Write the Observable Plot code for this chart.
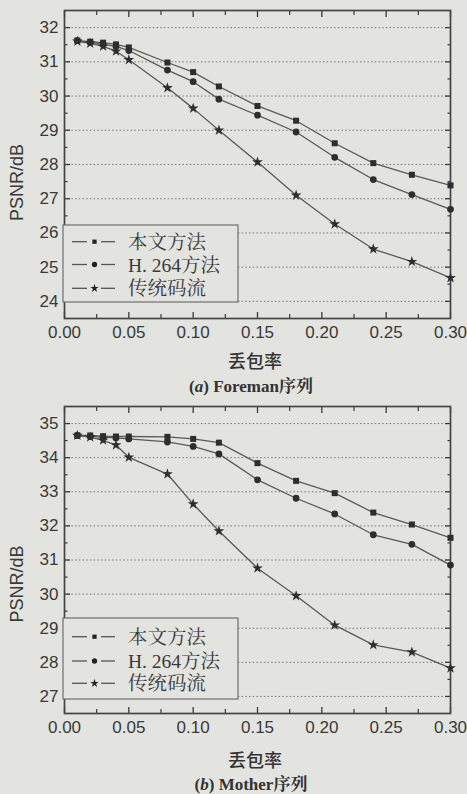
<!DOCTYPE html>
<html><head><meta charset="utf-8">
<script src="https://cdn.jsdelivr.net/npm/d3@7"></script>
<script src="https://cdn.jsdelivr.net/npm/@observablehq/plot@0.6"></script>
<style>
html,body{margin:0;padding:0;}
body{background:#e3e3df;width:467px;height:794px;overflow:hidden;position:relative;font-family:"Liberation Sans",Arial,sans-serif;}
.panel{position:absolute;left:0;width:467px;}
.xlab{position:absolute;left:0;width:510px;text-align:center;font-family:"Noto Sans CJK SC",sans-serif;font-size:18px;font-weight:500;color:#333;line-height:1;}
.cap{position:absolute;left:0;width:502px;text-align:center;font-family:"Liberation Serif","Noto Serif CJK SC","Noto Sans CJK SC",serif;font-size:17px;font-weight:bold;color:#333;line-height:1;}
.legend{position:absolute;}
</style></head>
<body>
<div id="p1" class="panel" style="top:0;height:400px;"></div>
<div id="p2" class="panel" style="top:400px;height:394px;"></div>
<script>
// ---- data ----
const lossRate = [0.01,0.02,0.03,0.04,0.05,0.08,0.10,0.12,0.15,0.18,0.21,0.24,0.27,0.30];
const foremanOurs = [31.62,31.59,31.56,31.51,31.42,30.98,30.70,30.28,29.71,29.28,28.62,28.04,27.70,27.39];
const foremanH264 = [31.62,31.57,31.51,31.45,31.33,30.76,30.42,29.91,29.44,28.95,28.21,27.56,27.12,26.69];
const foremanTrad = [31.60,31.54,31.45,31.31,31.06,30.24,29.64,29.00,28.07,27.10,26.26,25.53,25.16,24.69];
const motherOurs = [34.65,34.65,34.63,34.62,34.62,34.61,34.55,34.44,33.84,33.32,32.96,32.39,32.04,31.65];
const motherH264 = [34.65,34.62,34.60,34.58,34.55,34.46,34.33,34.11,33.35,32.81,32.35,31.74,31.46,30.85];
const motherTrad = [34.65,34.60,34.51,34.37,34.01,33.52,32.64,31.85,30.76,29.95,29.09,28.51,28.30,27.83];
const seriesNames = ["本文方法","H. 264方法","传统码流"];
const seriesSymbols = ["square","circle","star"];
const xMajor = [0,0.05,0.10,0.15,0.20,0.25,0.30];
const xMinor = [0.025,0.075,0.125,0.175,0.225,0.275];
const yMajor1 = [24,25,26,27,28,29,30,31,32];
const yMajor2 = [27,28,29,30,31,32,33,34,35];
const xLabel = "丢包率";
const yLabel = "PSNR/dB";

const ink = "#3a3a3a";
const bg = "#e3e3df";

function panel(el, cfg){
  const rows = [];
  cfg.series.forEach((vals, si) => vals.forEach((v, i) => rows.push({x: lossRate[i], y: v, s: seriesNames[si]})));
  const yMinor = cfg.yMajor.slice(0,-1).map(d => d + 0.5);
  const chart = Plot.plot({
    width: 467, height: cfg.height,
    marginLeft: 64, marginRight: 17, marginTop: cfg.mt, marginBottom: cfg.mb,
    style: {background: "transparent", color: ink, fontFamily: '"Liberation Sans",Arial,sans-serif'},
    x: {domain: [0, 0.3], label: null},
    y: {domain: cfg.domain, label: null},
    marks: [
      Plot.gridY(cfg.yMajor, {stroke: "#6a6a6a", strokeOpacity: 0.9, strokeDasharray: "1.5,2.2", strokeWidth: 1}),
      Plot.axisY(cfg.yMajor, {anchor: "left", tickSize: -6, tickPadding: 12, fontSize: 17, label: null, stroke: ink, strokeWidth: 1.3}),
      Plot.axisY(yMinor, {anchor: "left", tickSize: -3.5, fill: "none", label: null, stroke: ink, strokeWidth: 1.2}),
      Plot.axisY(cfg.yMajor, {anchor: "right", tickSize: -6, fill: "none", label: null, stroke: ink, strokeWidth: 1.3}),
      Plot.axisY(yMinor, {anchor: "right", tickSize: -3.5, fill: "none", label: null, stroke: ink, strokeWidth: 1.2}),
      Plot.axisX(xMajor, {anchor: "bottom", tickSize: -6, tickPadding: 13, fontSize: 17, label: null, tickFormat: d3.format(".2f"), stroke: ink, strokeWidth: 1.3}),
      Plot.axisX(xMinor, {anchor: "bottom", tickSize: -4, fill: "none", label: null, stroke: ink, strokeWidth: 1.2}),
      Plot.axisX(xMajor, {anchor: "top", tickSize: -6, fill: "none", label: null, stroke: ink, strokeWidth: 1.3}),
      Plot.axisX(xMinor, {anchor: "top", tickSize: -4, fill: "none", label: null, stroke: ink, strokeWidth: 1.2}),
      Plot.frame({stroke: "#444", strokeWidth: 1.7}),
      Plot.line(rows, {x: "x", y: "y", z: "s", stroke: "#5a5a5a", strokeWidth: 1.3}),
      Plot.dot(rows.filter(d => d.s === seriesNames[0]), {x: "x", y: "y", symbol: () => "square", r: 3.4, fill: "#2e2e2e", stroke: "none"}),
      Plot.dot(rows.filter(d => d.s === seriesNames[1]), {x: "x", y: "y", symbol: () => "circle", r: 3.4, fill: "#2e2e2e", stroke: "none"}),
      Plot.dot(rows.filter(d => d.s === seriesNames[2]), {x: "x", y: "y", symbol: () => "star", r: 3.4, fill: "#2e2e2e", stroke: "none"}),
      Plot.text([yLabel], {frameAnchor: "left", dx: -47, dy: cfg.ylabDy, rotate: -90, fontSize: 18, fill: ink, textAnchor: "middle"})
    ]
  });
  el.appendChild(chart);

  // legend box overlay
  const lg = cfg.legend;
  const svg = d3.select(el).append("svg")
    .attr("class", "legend")
    .attr("width", lg.w + 2).attr("height", lg.h + 2)
    .style("left", (lg.x - 1) + "px").style("top", (lg.y - 1) + "px");
  svg.append("rect").attr("x", 1).attr("y", 1).attr("width", lg.w).attr("height", lg.h)
    .attr("fill", bg).attr("stroke", "#6e6e6e").attr("stroke-width", 1.2);
  seriesNames.forEach((name, i) => {
    const cy = 1 + lg.rows[i];
    const g = svg.append("g");
    g.append("line").attr("x1", 10).attr("x2", 25).attr("y1", cy).attr("y2", cy).attr("stroke", "#555").attr("stroke-width", 1.3);
    g.append("line").attr("x1", 39).attr("x2", 53).attr("y1", cy).attr("y2", cy).attr("stroke", "#555").attr("stroke-width", 1.3);
    const sym = {square: d3.symbolSquare, circle: d3.symbolCircle, star: d3.symbolStar}[seriesSymbols[i]];
    const size = {square: 18, circle: 22, star: 22}[seriesSymbols[i]];
    g.append("path").attr("d", d3.symbol(sym, size)()).attr("transform", `translate(32.5,${cy})`).attr("fill", "#222");
    g.append("text").attr("x", 66).attr("y", cy).attr("dy", "0.36em")
      .attr("font-family", '"Liberation Serif","Noto Serif CJK SC","Noto Sans CJK SC",serif')
      .attr("font-size", 19.5).attr("fill", ink).text(name);
  });

  const xl = document.createElement("div");
  xl.className = "xlab"; xl.style.top = (cfg.xlabY - 9) + "px"; xl.textContent = xLabel;
  el.appendChild(xl);
  const cap = document.createElement("div");
  cap.className = "cap"; cap.style.top = (cfg.capY - 8.5) + "px";
  cap.innerHTML = cfg.caption;
  el.appendChild(cap);
  el.querySelector("svg").style.position = "absolute";
  el.querySelector("svg").style.left = "0";
  el.querySelector("svg").style.top = "0";
}

panel(document.getElementById("p1"), {
  series: [foremanOurs, foremanH264, foremanTrad],
  domain: [23.5, 32.5], yMajor: yMajor1,
  height: 400, mt: 10, mb: 82, ylabDy: 18,
  legend: {x: 63, y: 225, w: 175, h: 77, rows: [16.7, 39.5, 63.3]},
  xlabY: 360, capY: 386,
  caption: "(<i>a</i>) Foreman序列"
});
panel(document.getElementById("p2"), {
  series: [motherOurs, motherH264, motherTrad],
  domain: [26.5, 35.5], yMajor: yMajor2,
  height: 394, mt: 6, mb: 81, ylabDy: 24,
  legend: {x: 63, y: 218, w: 175, h: 81, rows: [18.7, 43, 65.3]},
  xlabY: 359, capY: 384,
  caption: "(<i>b</i>) Mother序列"
});
</script>
</body></html>
